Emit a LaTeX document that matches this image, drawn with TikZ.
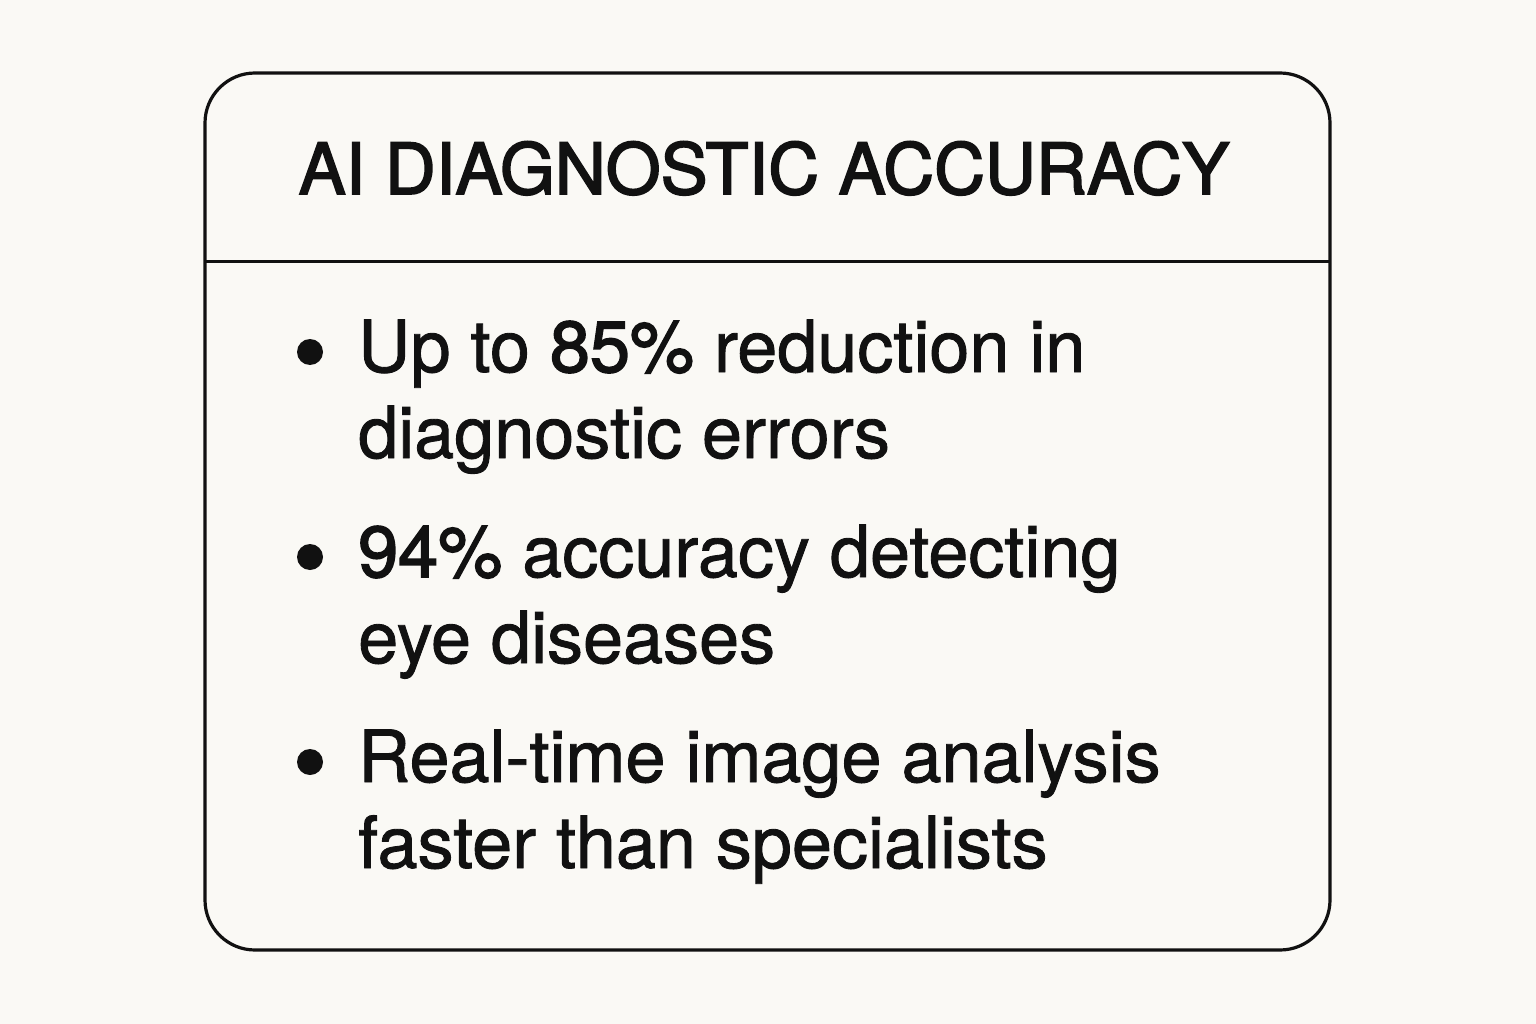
\documentclass[tikz,border=0pt]{standalone}
\usepackage{fontspec}
\setmainfont{TeX Gyre Heros}
\newfontfamily\medfont[FakeBold=1.2]{TeX Gyre Heros}
\newfontfamily\semifont[FakeBold=2.2]{TeX Gyre Heros}
\newfontfamily\titlefont[FakeBold=2.4]{TeX Gyre Heros}
\definecolor{bg}{HTML}{FAF9F5}
\definecolor{ink}{HTML}{111111}
\begin{document}
\begin{tikzpicture}[x=1pt,y=-1pt,
  body/.style={anchor=base west,inner sep=0,text=ink,font=\medfont\fontsize{72}{88}\selectfont,align=left},
  dot/.style={circle,fill=ink,inner sep=0,minimum size=26pt}]
\fill[bg] (0,0) rectangle (1536,1024);
\useasboundingbox (0,0) rectangle (1536,1024);
\draw[ink,line width=3.2pt,rounded corners=50pt] (205,73) rectangle (1330,950);
\draw[ink,line width=3pt] (205,262) -- (1330,262);
\node[anchor=base,inner sep=0,text=ink,font=\titlefont\fontsize{70.5}{80}\selectfont] (title) at (764,194) {AI DIAGNOSTIC ACCURACY};
\node[dot] (d1) at (310,352) {};
\node[dot] (d2) at (310,557) {};
\node[dot] (d3) at (310,762) {};
\node[body] (t1a) at (358,372) {Up to {\semifont 85\%} reduction in};
\node[body] (t1b) at (358,458) {diagnostic errors};
\node[body] (t2a) at (358,577) {{\semifont 94\%} accuracy detecting};
\node[body] (t2b) at (358,663) {eye diseases};
\node[body] (t3a) at (358,782) {Real-time image analysis};
\node[body] (t3b) at (358,868) {faster than specialists};
\end{tikzpicture}
\end{document}
